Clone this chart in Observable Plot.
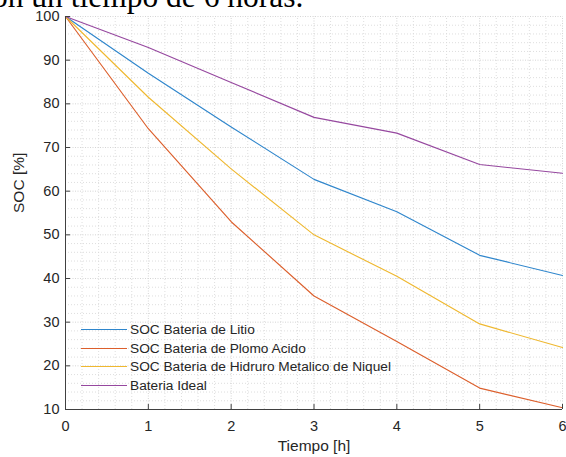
<!DOCTYPE html>
<html><head><meta charset="utf-8">
<script src="https://cdn.jsdelivr.net/npm/d3@7"></script>
<script src="https://cdn.jsdelivr.net/npm/@observablehq/plot@0.6"></script>
<style>
body{margin:0;background:#fff;}
#wrap{position:relative;width:566px;height:457px;overflow:hidden;font-family:"Liberation Sans",Arial,sans-serif;}
#title{position:absolute;left:-22px;top:-19px;line-height:32px;font-family:"Liberation Serif","Times New Roman",serif;font-size:31.5px;white-space:nowrap;color:#000;}
#chart{position:absolute;left:0;top:0;}
#legend{position:absolute;left:81px;top:320px;font-size:13.7px;color:#262626;}
.row{height:18.8px;display:flex;align-items:center;}
.sw{width:46px;height:0;border-top:1.2px solid;margin-right:3px;}
</style></head>
<body>
<div id="wrap">
  <div id="chart"></div>
  <div id="title">con un tiempo de 6 horas.</div>
  <div id="legend"></div>
</div>
<script>
const tiempo = [0, 1, 2, 3, 4, 5, 6];
const litio  = [100, 87.0, 74.7, 62.7, 55.3, 45.3, 40.7];
const plomo  = [100, 74.3, 53.0, 36.0, 25.6, 14.9, 10.4];
const niquel = [100, 81.5, 65.1, 50.0, 40.5, 29.6, 24.2];
const ideal  = [100, 92.9, 84.9, 76.9, 73.3, 66.1, 64.1];
const seriesNames = ["SOC Bateria de Litio", "SOC Bateria de Plomo Acido", "SOC Bateria de Hidruro Metalico de Niquel", "Bateria Ideal"];
const seriesValues = [litio, plomo, niquel, ideal];
const colors = ["#2f86cc", "#dc5f2c", "#efb830", "#96489f"];
const xTicks = [0, 1, 2, 3, 4, 5, 6];
const yTicks = [10, 20, 30, 40, 50, 60, 70, 80, 90, 100];
const xLabel = "Tiempo [h]";
const yLabel = "SOC [%]";

const W = 566, H = 457, mL = 65, mR = 4, mT = 16, mB = 48;
const xDom = [0, 6], yDom = [10, 100];
const minorX = d3.range(0, 60.5, 2).map(d => d / 10).filter(d => !xTicks.includes(d));
const minorY = d3.range(10, 101, 2).filter(d => !yTicks.includes(d));
const tickPx = 5;
const kx = tickPx * (xDom[1] - xDom[0]) / (W - mL - mR);
const ky = tickPx * (yDom[1] - yDom[0]) / (H - mT - mB);

const rows = seriesNames.flatMap((s, i) => tiempo.map((t, j) => ({serie: s, t, v: seriesValues[i][j]})));

const plot = Plot.plot({
  width: W, height: H,
  marginLeft: mL, marginRight: mR, marginTop: mT, marginBottom: mB,
  style: {fontFamily: '"Liberation Sans", Arial, sans-serif', fontSize: "14.5px", color: "#262626", background: "white", overflow: "visible"},
  x: {domain: xDom},
  y: {domain: yDom},
  color: {domain: seriesNames, range: colors},
  marks: [
    Plot.ruleX(minorX, {y1: yDom[0], y2: yDom[1], stroke: "#dadada", strokeDasharray: "1,2", strokeWidth: 0.9}),
    Plot.ruleY(minorY, {x1: xDom[0], x2: xDom[1], stroke: "#dadada", strokeDasharray: "1,2", strokeWidth: 0.9}),
    Plot.ruleX(xTicks.slice(1), {y1: yDom[0], y2: yDom[1], stroke: "#d0d0d0", strokeDasharray: "1,1.5", strokeWidth: 0.9}),
    Plot.ruleY(yTicks.slice(1), {x1: xDom[0], x2: xDom[1], stroke: "#d0d0d0", strokeDasharray: "1,1.5", strokeWidth: 0.9}),
    Plot.line(rows, {x: "t", y: "v", z: "serie", stroke: "serie", strokeWidth: 1.15}),
    Plot.ruleX([xDom[0]], {y1: yDom[0], y2: yDom[1], stroke: "#404040", strokeWidth: 1}),
    Plot.ruleY([yDom[0]], {x1: xDom[0], x2: xDom[1], stroke: "#404040", strokeWidth: 1}),
    Plot.ruleY(yTicks, {x1: xDom[0], x2: xDom[0] + kx, stroke: "#404040", strokeWidth: 1}),
    Plot.ruleX(xTicks, {y1: yDom[0], y2: yDom[0] + ky, stroke: "#404040", strokeWidth: 1}),
    Plot.axisY({ticks: yTicks, tickSize: 0, tickPadding: 6, fontSize: 14.5, tickFormat: d3.format("d"), label: null}),
    Plot.axisX({ticks: xTicks, tickSize: 0, tickPadding: 11, fontSize: 14.5, tickFormat: d3.format("d"), label: null}),
    Plot.text([xLabel], {text: d => d, frameAnchor: "bottom", dy: 37, fontSize: 15.5, lineAnchor: "middle", fill: "#262626"}),
    Plot.text([yLabel], {text: d => d, frameAnchor: "left", dx: -46, rotate: -90, fontSize: 15.5, lineAnchor: "middle", fill: "#262626"})
  ]
});
document.getElementById("chart").appendChild(plot);

const legend = document.getElementById("legend");
seriesNames.forEach((s, i) => {
  const r = document.createElement("div");
  r.className = "row";
  const sw = document.createElement("div");
  sw.className = "sw";
  sw.style.borderTopColor = colors[i];
  const t = document.createElement("span");
  t.textContent = s;
  r.appendChild(sw); r.appendChild(t);
  legend.appendChild(r);
});
</script>
</body></html>
